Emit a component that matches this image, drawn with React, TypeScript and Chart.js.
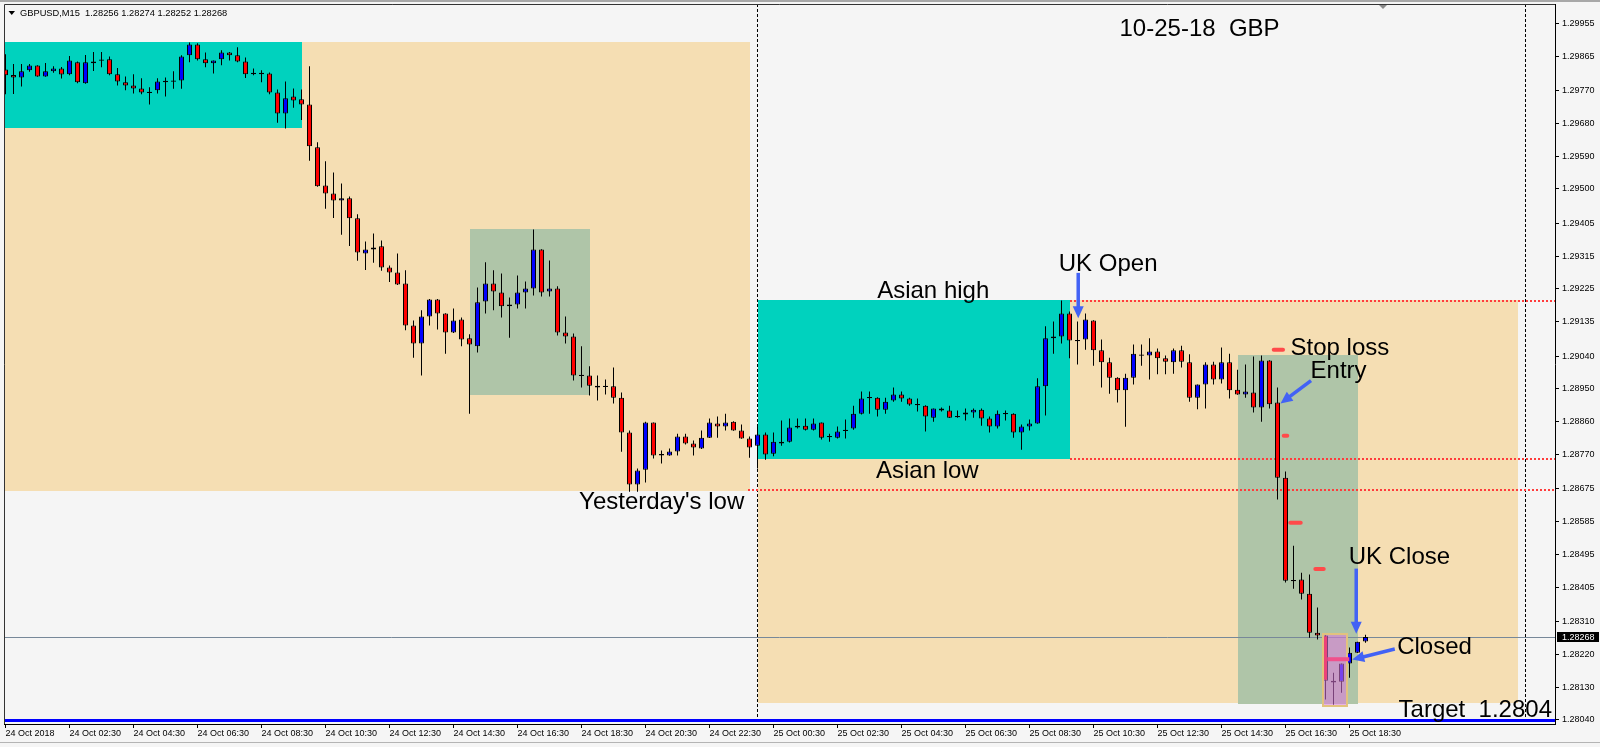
import React, { useEffect, useRef } from "react";
import { Chart, registerables } from "chart.js";

Chart.register(...registerables);

const FONT = "'Liberation Sans', Arial, sans-serif";
const SYMBOL = "GBPUSD,M15";

// bar index counted in 15-minute bars from 25 Oct 2018 00:00 (first visible bar = 24 Oct 00:30)
const FIRST_BAR = -94;
const X_MIN = -94.1875;
const X_MAX = 99.6875;
const Y_MIN = 1.280289;
const Y_MAX = 1.300081;

const opens = [
  1.29828, 1.29813, 1.29806, 1.29826, 1.29839, 1.29809, 1.29823, 1.29831, 1.29815, 1.29848,
  1.2979, 1.29845, 1.29854, 1.29856, 1.29815, 1.29793, 1.29784, 1.29776, 1.29765, 1.29771,
  1.29795, 1.29796, 1.29798, 1.29867, 1.29897, 1.29856, 1.29845, 1.29856, 1.29875, 1.29867,
  1.2985, 1.29817, 1.29817, 1.29817, 1.29765, 1.29707, 1.29754, 1.29746, 1.29732, 1.29614,
  1.29509, 1.29487, 1.29468, 1.29474, 1.29419, 1.29322, 1.29333, 1.29342, 1.29284, 1.2927,
  1.2924, 1.29124, 1.29075, 1.29149, 1.29196, 1.29157, 1.29105, 1.29141, 1.29089, 1.29067,
  1.2919, 1.2924, 1.29215, 1.29177, 1.29182, 1.29215, 1.29226, 1.29333, 1.29218, 1.29226,
  1.29105, 1.29094, 1.28987, 1.28987, 1.28959, 1.28957, 1.28957, 1.28926, 1.2883, 1.28687,
  1.28728, 1.28858, 1.28769, 1.28767, 1.28778, 1.28819, 1.288, 1.28786, 1.28816, 1.28855,
  1.28847, 1.2886, 1.28836, 1.28814, 1.28794, 1.28825, 1.28772, 1.28805, 1.28805, 1.28844,
  1.28849, 1.28838, 1.28858, 1.28819, 1.28816, 1.28836, 1.28841, 1.28882, 1.28926, 1.28926,
  1.28893, 1.28918, 1.28935, 1.28924, 1.28907, 1.28904, 1.28871, 1.28896, 1.28891, 1.28874,
  1.2888, 1.28885, 1.28893, 1.28869, 1.28847, 1.28882, 1.28882, 1.2883, 1.28847, 1.28855,
  1.28957, 1.29089, 1.29094, 1.29157, 1.29083, 1.29086, 1.29138, 1.29056, 1.29023, 1.28981,
  1.28946, 1.28981, 1.29043, 1.29042, 1.29053, 1.29034, 1.29023, 1.29056, 1.29023, 1.28926,
  1.28962, 1.29017, 1.28976, 1.29023, 1.28948, 1.28935, 1.2894, 1.28899, 1.29028, 1.28913,
  1.28706, 1.28423, 1.28426, 1.28387, 1.2828, 1.28272, 1.28148, 1.28145, 1.28195, 1.28225, 1.28256,
];
const highs = [
  1.2987, 1.29843, 1.29843, 1.29843, 1.2984, 1.29846, 1.29837, 1.29835, 1.29865, 1.2985,
  1.29868, 1.29876, 1.29876, 1.29864, 1.29832, 1.29809, 1.29815, 1.29804, 1.29779, 1.29804,
  1.29806, 1.29823, 1.29867, 1.29902, 1.299, 1.29875, 1.29853, 1.29881, 1.29876, 1.29889,
  1.29861, 1.29831, 1.29826, 1.2982, 1.29773, 1.29795, 1.29776, 1.29773, 1.29837, 1.29628,
  1.29576, 1.29545, 1.29515, 1.29479, 1.2943, 1.29355, 1.29377, 1.29358, 1.29289, 1.29322,
  1.29276, 1.29138, 1.29166, 1.29197, 1.29197, 1.29158, 1.29171, 1.29146, 1.291, 1.29229,
  1.29298, 1.29276, 1.29267, 1.29201, 1.29262, 1.29245, 1.29388, 1.29334, 1.29303, 1.29232,
  1.29149, 1.29102, 1.29067, 1.29012, 1.28987, 1.28976, 1.29009, 1.2894, 1.28836, 1.28731,
  1.2886, 1.28858, 1.28781, 1.28786, 1.28827, 1.28827, 1.28808, 1.28836, 1.28869, 1.28874,
  1.28882, 1.28861, 1.28852, 1.28819, 1.28847, 1.2883, 1.2883, 1.28863, 1.28869, 1.28869,
  1.28869, 1.28869, 1.28858, 1.28827, 1.28847, 1.28866, 1.28904, 1.28943, 1.28943, 1.28927,
  1.28926, 1.28954, 1.28943, 1.28926, 1.28924, 1.28905, 1.28896, 1.28899, 1.28904, 1.28891,
  1.28896, 1.28896, 1.28896, 1.28874, 1.28891, 1.28891, 1.28883, 1.28852, 1.28866, 1.28979,
  1.29122, 1.29135, 1.29193, 1.29163, 1.29135, 1.29157, 1.29139, 1.29086, 1.29036, 1.28982,
  1.28992, 1.29072, 1.29072, 1.29089, 1.29061, 1.29042, 1.29061, 1.29069, 1.29045, 1.28962,
  1.29023, 1.29025, 1.29064, 1.29047, 1.29003, 1.29017, 1.29039, 1.29042, 1.29029, 1.28954,
  1.28723, 1.28519, 1.28445, 1.2844, 1.28349, 1.28273, 1.2817, 1.28195, 1.28239, 1.28255, 1.28274,
];
const lows = [
  1.2976, 1.29761, 1.29781, 1.29822, 1.29808, 1.29808, 1.29819, 1.29803, 1.29812, 1.2979,
  1.29789, 1.29824, 1.29834, 1.29812, 1.29784, 1.29771, 1.29762, 1.2976, 1.29732, 1.29762,
  1.29754, 1.29775, 1.29775, 1.29848, 1.29853, 1.29834, 1.29817, 1.2984, 1.29853, 1.29848,
  1.29805, 1.29812, 1.29793, 1.2976, 1.29682, 1.29666, 1.29723, 1.29689, 1.29577, 1.29506,
  1.29445, 1.2942, 1.29374, 1.29343, 1.29302, 1.29277, 1.29297, 1.29275, 1.29244, 1.29236,
  1.29111, 1.29036, 1.28987, 1.29124, 1.29113, 1.29047, 1.29104, 1.29067, 1.28882, 1.2905,
  1.29157, 1.29166, 1.29146, 1.29091, 1.29171, 1.29171, 1.29207, 1.29204, 1.29204, 1.29097,
  1.29075, 1.28973, 1.28954, 1.28932, 1.28918, 1.28935, 1.2891, 1.28777, 1.28667, 1.28667,
  1.28693, 1.28759, 1.28745, 1.28766, 1.28767, 1.28797, 1.28767, 1.28785, 1.28815, 1.28816,
  1.28836, 1.28835, 1.28813, 1.28761, 1.28731, 1.28755, 1.28765, 1.28794, 1.28803, 1.28841,
  1.28836, 1.28836, 1.28811, 1.28805, 1.28814, 1.28814, 1.28838, 1.2888, 1.28882, 1.28874,
  1.28882, 1.28915, 1.28915, 1.28904, 1.28888, 1.28833, 1.2886, 1.28888, 1.2887, 1.28871,
  1.28863, 1.28871, 1.28849, 1.2883, 1.28841, 1.28863, 1.28816, 1.28783, 1.28836, 1.28854,
  1.28877, 1.29047, 1.29075, 1.29034, 1.29017, 1.29058, 1.29014, 1.28954, 1.28937, 1.28913,
  1.28846, 1.28962, 1.29014, 1.28976, 1.2899, 1.2899, 1.28992, 1.29009, 1.28915, 1.28894,
  1.28896, 1.28962, 1.28965, 1.28924, 1.28934, 1.28926, 1.28885, 1.2886, 1.28896, 1.28646,
  1.28418, 1.28401, 1.28371, 1.28266, 1.28261, 1.28096, 1.28082, 1.28115, 1.28156, 1.28224, 1.28252,
];
const closes = [
  1.29812, 1.29806, 1.29823, 1.29839, 1.29809, 1.29823, 1.29831, 1.29814, 1.29853, 1.29793,
  1.29848, 1.2985, 1.29854, 1.29815, 1.29795, 1.29784, 1.29776, 1.29765, 1.29765, 1.29795,
  1.29795, 1.29796, 1.29864, 1.29897, 1.29856, 1.29845, 1.29853, 1.29875, 1.29867, 1.2985,
  1.29815, 1.29817, 1.29817, 1.29765, 1.29707, 1.29749, 1.29743, 1.29732, 1.29617, 1.29507,
  1.29487, 1.29468, 1.29474, 1.29419, 1.29325, 1.29333, 1.29339, 1.29284, 1.2927, 1.29237,
  1.29124, 1.29075, 1.29149, 1.29196, 1.29157, 1.29105, 1.29138, 1.29086, 1.29072, 1.29188,
  1.2924, 1.29218, 1.29177, 1.29182, 1.29215, 1.29226, 1.29333, 1.29215, 1.29226, 1.29105,
  1.29094, 1.28987, 1.28987, 1.28959, 1.28954, 1.28957, 1.28926, 1.2883, 1.28687, 1.28726,
  1.28858, 1.28767, 1.28769, 1.28778, 1.28819, 1.288, 1.28789, 1.28816, 1.28858, 1.28847,
  1.28858, 1.28836, 1.28814, 1.28789, 1.28825, 1.2877, 1.28805, 1.288, 1.28844, 1.28849,
  1.28838, 1.28855, 1.28816, 1.28819, 1.28833, 1.28836, 1.28882, 1.28924, 1.28926, 1.28893,
  1.28915, 1.28935, 1.28924, 1.28907, 1.28907, 1.28874, 1.28896, 1.28891, 1.28871, 1.28874,
  1.28885, 1.28893, 1.28869, 1.28847, 1.28882, 1.28882, 1.2883, 1.28847, 1.28855, 1.28957,
  1.29089, 1.29094, 1.29157, 1.29083, 1.29083, 1.29141, 1.29056, 1.29023, 1.28981, 1.28946,
  1.28981, 1.29047, 1.29043, 1.29053, 1.29034, 1.29025, 1.29056, 1.29025, 1.28926, 1.28962,
  1.29017, 1.28976, 1.29023, 1.28946, 1.28935, 1.28943, 1.28899, 1.29028, 1.28908, 1.28706,
  1.28423, 1.28423, 1.28387, 1.2828, 1.28272, 1.28148, 1.28143, 1.28195, 1.28225, 1.28255, 1.28268,
];

const timeTickBars = [-94, -86, -78, -70, -62, -54, -46, -38, -30, -22, -14, -6, 2, 10, 18, 26, 34, 42, 50, 58, 66, 74];
const timeTickLabels = [
  "24 Oct 2018", "24 Oct 02:30", "24 Oct 04:30", "24 Oct 06:30", "24 Oct 08:30", "24 Oct 10:30",
  "24 Oct 12:30", "24 Oct 14:30", "24 Oct 16:30", "24 Oct 18:30", "24 Oct 20:30", "24 Oct 22:30",
  "25 Oct 00:30", "25 Oct 02:30", "25 Oct 04:30", "25 Oct 06:30", "25 Oct 08:30", "25 Oct 10:30",
  "25 Oct 12:30", "25 Oct 14:30", "25 Oct 16:30", "25 Oct 18:30",
];
const priceTicks = [
  1.29955, 1.29865, 1.2977, 1.2968, 1.2959, 1.295, 1.29405, 1.29315, 1.29225, 1.29135, 1.2904,
  1.2895, 1.2886, 1.2877, 1.28675, 1.28585, 1.28495, 1.28405, 1.2831, 1.2822, 1.2813, 1.2804,
];

// levels
const targetPrice = 1.2804;
const asianHigh = 1.29193;
const asianLow = 1.28757;
const yesterdayLow = 1.28673;
const asianLevelStart = 39;
const yesterdayLevelStart = -1.25;
const daySeparators = [0, 96];

// rectangles: [bar from, bar to, price top, price bottom]
const yesterdayRange = [-95, -1, 1.29904, 1.28669];
const prevAsiaRange = [-95, -57, 1.29904, 1.29668];
const prevLondonRange = [-36, -21, 1.29389, 1.28934];
const todayRange = [0, 95, 1.29194, 1.28086];
const asiaRange = [0, 39, 1.29194, 1.28757];
const londonRange = [60, 75, 1.29043, 1.28083];
const closeRange = [70.66, 73.71, 1.28275, 1.28079];

// trade level marks: [bar from, bar to, price]
const markFrom = [64.53, 65.78, 66.6, 69.73];
const markTo = [65.69, 66.22, 67.9, 70.78];
const markPrice = [1.29058, 1.28821, 1.28582, 1.28455];
const closedMark = [71.23, 73.98, 1.28207];

// notes
const noteTexts = ["10-25-18  GBP", "Asian high", "UK Open", "Stop loss", "Entry", "Asian low", "Yesterday's low", "UK Close", "Closed", "Target  1.2804"];
const noteBar = [45.25, 14.96, 37.66, 66.63, 69.13, 14.81, -22.3, 73.91, 79.96, 80.13];
const notePrice = [1.29921, 1.292, 1.29275, 1.29043, 1.28979, 1.28705, 1.28619, 1.2847, 1.28222, 1.28048];

// arrows
const arrowFromBar = [40.09, 69.19, 74.84, 79.66];
const arrowFromPrice = [1.29269, 1.28973, 1.28456, 1.28235];
const arrowToBar = [40.09, 65.375, 74.84, 74.34];
const arrowToPrice = [1.29144, 1.2891, 1.28277, 1.28206];

const BG = "#F5F5F5";
const TAN = "#F5DEB3";
const CYAN = "#00D2BE";
const GREEN = "#AFC5A8";
const ARROW = "#4262F5";
const DOJI = 0.000018;

function App() {
  const ref = useRef<HTMLCanvasElement | null>(null);

  useEffect(() => {
    document.body.style.margin = "0";
    const canvas = ref.current;
    if (!canvas) return;

    const bars = opens.map((_, k) => FIRST_BAR + k);
    const wickData = bars.map((x, k) => ({ x, y: [lows[k], highs[k]] }));
    const bodyData = bars.map((x, k) => {
      const o = opens[k];
      const c = closes[k];
      if (Math.abs(o - c) < 1e-7) return { x, y: [o - DOJI, o + DOJI] };
      return { x, y: [Math.min(o, c), Math.max(o, c)] };
    });
    const bodyColors = bars.map((_, k) =>
      closes[k] > opens[k] ? "#0000FF" : closes[k] < opens[k] ? "#FF0000" : "#000000"
    );

    const markSets = markPrice.map((p, k) => ({
      type: "line" as const,
      data: [{ x: markFrom[k], y: p }, { x: markTo[k], y: p }],
      borderColor: "#FF4A4A",
      borderWidth: 4,
      borderCapStyle: "round" as const,
      pointRadius: 0,
      pointHoverRadius: 0,
      fill: false,
      order: 1,
    }));
    const closedSet = {
      type: "line" as const,
      data: [{ x: closedMark[0], y: closedMark[2] }, { x: closedMark[1], y: closedMark[2] }],
      borderColor: "#F0508C",
      borderWidth: 4,
      borderCapStyle: "butt" as const,
      pointRadius: 0,
      pointHoverRadius: 0,
      fill: false,
      order: 0,
    };

    const plugin = {
      id: "mt4look",
      beforeDraw(chart: any) {
        const { ctx, width, height } = chart;
        ctx.save();
        ctx.fillStyle = BG;
        ctx.fillRect(0, 0, width, height);
        ctx.fillStyle = "#A8A8A8";
        ctx.fillRect(0, 0, width, 2);
        ctx.fillStyle = "#B4B4B4";
        ctx.fillRect(0, 742, width, 1);
        ctx.restore();
      },
      beforeDatasetsDraw(chart: any) {
        const { ctx, chartArea: a } = chart;
        const px = (v: number) => chart.scales.x.getPixelForValue(v);
        const py = (v: number) => chart.scales.y.getPixelForValue(v);
        ctx.save();
        ctx.beginPath();
        ctx.rect(a.left, a.top, a.right - a.left, a.bottom - a.top);
        ctx.clip();
        const box = (b: number[], color: string) => {
          const x1 = Math.round(px(b[0]));
          const x2 = Math.round(px(b[1]));
          const y1 = Math.round(py(b[2]));
          const y2 = Math.round(py(b[3]));
          ctx.fillStyle = color;
          ctx.fillRect(x1, y1, x2 - x1, y2 - y1);
        };
        box(yesterdayRange, TAN);
        box(prevAsiaRange, CYAN);
        box(prevLondonRange, GREEN);
        box(todayRange, TAN);
        box(asiaRange, CYAN);
        box(londonRange, GREEN);

        // day separators
        ctx.lineWidth = 1;
        ctx.setLineDash([3, 2]);
        ctx.strokeStyle = "#000";
        for (const s of daySeparators) {
          const x = Math.floor(px(s)) + 0.5;
          ctx.beginPath();
          ctx.moveTo(x, a.top);
          ctx.lineTo(x, a.bottom);
          ctx.stroke();
        }
        // separator shows pink over the asia box
        ctx.save();
        const ax1 = Math.round(px(asiaRange[0]));
        const ax2 = Math.round(px(asiaRange[1]));
        const ay1 = Math.round(py(asiaRange[2]));
        const ay2 = Math.round(py(asiaRange[3]));
        ctx.beginPath();
        ctx.rect(ax1, ay1, ax2 - ax1, ay2 - ay1);
        ctx.clip();
        ctx.strokeStyle = "#F0607A";
        const sx = Math.floor(px(daySeparators[0])) + 0.5;
        ctx.beginPath();
        ctx.moveTo(sx, a.top);
        ctx.lineTo(sx, a.bottom);
        ctx.stroke();
        ctx.restore();

        // red dotted levels
        ctx.setLineDash([2, 2]);
        ctx.lineWidth = 2;
        ctx.strokeStyle = "#FF3C3C";
        const level = (from: number, p: number) => {
          const y = Math.round(py(p));
          ctx.beginPath();
          ctx.moveTo(Math.round(px(from)), y);
          ctx.lineTo(a.right, y);
          ctx.stroke();
        };
        level(asianLevelStart, asianHigh);
        level(asianLevelStart, asianLow);
        level(yesterdayLevelStart, yesterdayLow);

        ctx.setLineDash([]);
        // bid line
        const bid = closes[closes.length - 1];
        const by = Math.floor(py(bid)) + 0.5;
        ctx.lineWidth = 1;
        ctx.strokeStyle = "#778899";
        ctx.beginPath();
        ctx.moveTo(a.left, by);
        ctx.lineTo(a.right, by);
        ctx.stroke();
        // target line
        const ty = Math.round(py(targetPrice)) + 0.5;
        ctx.lineWidth = 3;
        ctx.strokeStyle = "#0000FF";
        ctx.beginPath();
        ctx.moveTo(a.left, ty);
        ctx.lineTo(a.right, ty);
        ctx.stroke();
        ctx.restore();
      },
      afterDatasetDraw(chart: any, args: any) {
        if (args.index !== 1) return;
        const { ctx, chartArea: a } = chart;
        const px = (v: number) => chart.scales.x.getPixelForValue(v);
        const py = (v: number) => chart.scales.y.getPixelForValue(v);
        const x1 = Math.round(px(closeRange[0]));
        const x2 = Math.round(px(closeRange[1]));
        const y1 = Math.round(py(closeRange[2]));
        const y2 = Math.round(py(closeRange[3]));
        ctx.save();
        ctx.beginPath();
        ctx.rect(a.left, a.top, a.right - a.left, a.bottom - a.top);
        ctx.clip();
        ctx.fillStyle = "rgba(220,120,220,0.55)";
        ctx.fillRect(x1, y1, x2 - x1, y2 - y1);
        ctx.strokeStyle = "#E2C27E";
        ctx.lineWidth = 2;
        ctx.strokeRect(x1, y1, x2 - x1, y2 - y1);
        ctx.restore();
      },
      afterDatasetsDraw(chart: any) {
        const { ctx, chartArea: a } = chart;
        const px = (v: number) => chart.scales.x.getPixelForValue(v);
        const py = (v: number) => chart.scales.y.getPixelForValue(v);
        ctx.save();
        // frame top & left
        ctx.strokeStyle = "#333";
        ctx.lineWidth = 1;
        ctx.beginPath();
        ctx.moveTo(a.left + 0.5, a.bottom);
        ctx.lineTo(a.left + 0.5, a.top + 0.5);
        ctx.lineTo(a.right, a.top + 0.5);
        ctx.stroke();

        // arrows
        ctx.fillStyle = ARROW;
        ctx.strokeStyle = ARROW;
        for (let k = 0; k < arrowFromBar.length; k++) {
          const x1 = px(arrowFromBar[k]);
          const y1 = py(arrowFromPrice[k]);
          const x2 = px(arrowToBar[k]);
          const y2 = py(arrowToPrice[k]);
          const ang = Math.atan2(y2 - y1, x2 - x1);
          const head = 12;
          const half = 5.5;
          const bx = x2 - head * Math.cos(ang);
          const by = y2 - head * Math.sin(ang);
          ctx.lineWidth = 3.5;
          ctx.beginPath();
          ctx.moveTo(x1, y1);
          ctx.lineTo(bx + Math.cos(ang), by + Math.sin(ang));
          ctx.stroke();
          ctx.beginPath();
          ctx.moveTo(x2, y2);
          ctx.lineTo(bx + half * Math.sin(ang), by - half * Math.cos(ang));
          ctx.lineTo(bx - half * Math.sin(ang), by + half * Math.cos(ang));
          ctx.closePath();
          ctx.fill();
        }

        // notes
        ctx.fillStyle = "#000";
        ctx.font = `24px ${FONT}`;
        ctx.textAlign = "left";
        ctx.textBaseline = "alphabetic";
        for (let k = 0; k < noteTexts.length; k++) {
          ctx.fillText(noteTexts[k], px(noteBar[k]), py(notePrice[k]));
        }

        // header
        const last = opens.length - 1;
        ctx.beginPath();
        ctx.moveTo(8.5, 11);
        ctx.lineTo(15, 11);
        ctx.lineTo(11.75, 15);
        ctx.closePath();
        ctx.fill();
        ctx.font = `9.3px ${FONT}`;
        ctx.fillText(
          `${SYMBOL}  ${opens[last].toFixed(5)} ${highs[last].toFixed(5)} ${lows[last].toFixed(5)} ${closes[last].toFixed(5)}`,
          20,
          16
        );
        ctx.restore();
      },
      afterDraw(chart: any) {
        const { ctx, chartArea: a } = chart;
        const py = (v: number) => chart.scales.y.getPixelForValue(v);
        const bid = closes[closes.length - 1];
        const y = Math.round(py(bid));
        ctx.save();
        ctx.fillStyle = "#000";
        ctx.fillRect(a.right + 2, y - 5, 42, 10);
        ctx.fillStyle = "#FFF";
        ctx.font = `9px ${FONT}`;
        ctx.textBaseline = "middle";
        ctx.textAlign = "left";
        ctx.fillText(bid.toFixed(5), a.right + 7, y + 0.5);
        // shift marker
        ctx.fillStyle = "#8A8A8A";
        ctx.beginPath();
        ctx.moveTo(1379, a.top + 1);
        ctx.lineTo(1387, a.top + 1);
        ctx.lineTo(1383, a.top + 5);
        ctx.closePath();
        ctx.fill();
        ctx.restore();
      },
    };

    const chart = new Chart(canvas, {
      type: "bar",
      data: {
        datasets: [
          {
            data: wickData as any,
            backgroundColor: "#000000",
            borderWidth: 0,
            barThickness: 1,
            grouped: false,
            inflateAmount: 0,
            order: 5,
          } as any,
          {
            data: bodyData as any,
            backgroundColor: bodyColors,
            borderColor: "#000000",
            borderWidth: 1,
            borderSkipped: false,
            barThickness: 5,
            grouped: false,
            inflateAmount: 0,
            order: 4,
          } as any,
          ...(markSets as any[]),
          closedSet as any,
        ],
      },
      options: {
        responsive: false,
        animation: false,
        devicePixelRatio: 1,
        events: [],
        layout: { padding: { left: 4, top: 4, right: 0, bottom: 0 } },
        plugins: { legend: { display: false }, tooltip: { enabled: false } },
        scales: {
          x: {
            type: "linear",
            min: X_MIN,
            max: X_MAX,
            offset: false,
            grid: { display: true, drawOnChartArea: false, drawTicks: true, tickLength: 4, color: "#000", offset: false },
            border: { display: true, color: "#000" },
            ticks: {
              autoSkip: false,
              maxRotation: 0,
              minRotation: 0,
              align: "start",
              padding: 0,
              color: "#000",
              font: { family: FONT, size: 9 },
              callback: (_v: any, i: number) => timeTickLabels[i],
            },
            afterBuildTicks: (s: any) => {
              s.ticks = timeTickBars.map((v) => ({ value: v }));
            },
            afterFit: (s: any) => {
              s.height = 23;
              s.paddingLeft = 0;
              s.paddingRight = 0;
              s.paddingTop = 0;
              s.paddingBottom = 0;
            },
          },
          y: {
            type: "linear",
            position: "right",
            min: Y_MIN,
            max: Y_MAX,
            beginAtZero: false,
            grid: { display: true, drawOnChartArea: false, drawTicks: true, tickLength: 4, color: "#000" },
            border: { display: true, color: "#000" },
            ticks: {
              padding: 3,
              color: "#000",
              font: { family: FONT, size: 9 },
              callback: (v: any) => Number(v).toFixed(5),
            },
            afterBuildTicks: (s: any) => {
              s.ticks = priceTicks.map((v) => ({ value: v }));
            },
            afterFit: (s: any) => {
              s.width = 45;
              s.paddingTop = 0;
              s.paddingBottom = 0;
              s.paddingLeft = 0;
              s.paddingRight = 0;
            },
          },
        },
      } as any,
      plugins: [plugin],
    });

    return () => chart.destroy();
  }, []);

  return (
    <div style={{ position: "fixed", left: 0, top: 0 }}>
      <canvas ref={ref} width={1600} height={747} style={{ display: "block", width: 1600, height: 747 }} />
    </div>
  );
}

export default App;
